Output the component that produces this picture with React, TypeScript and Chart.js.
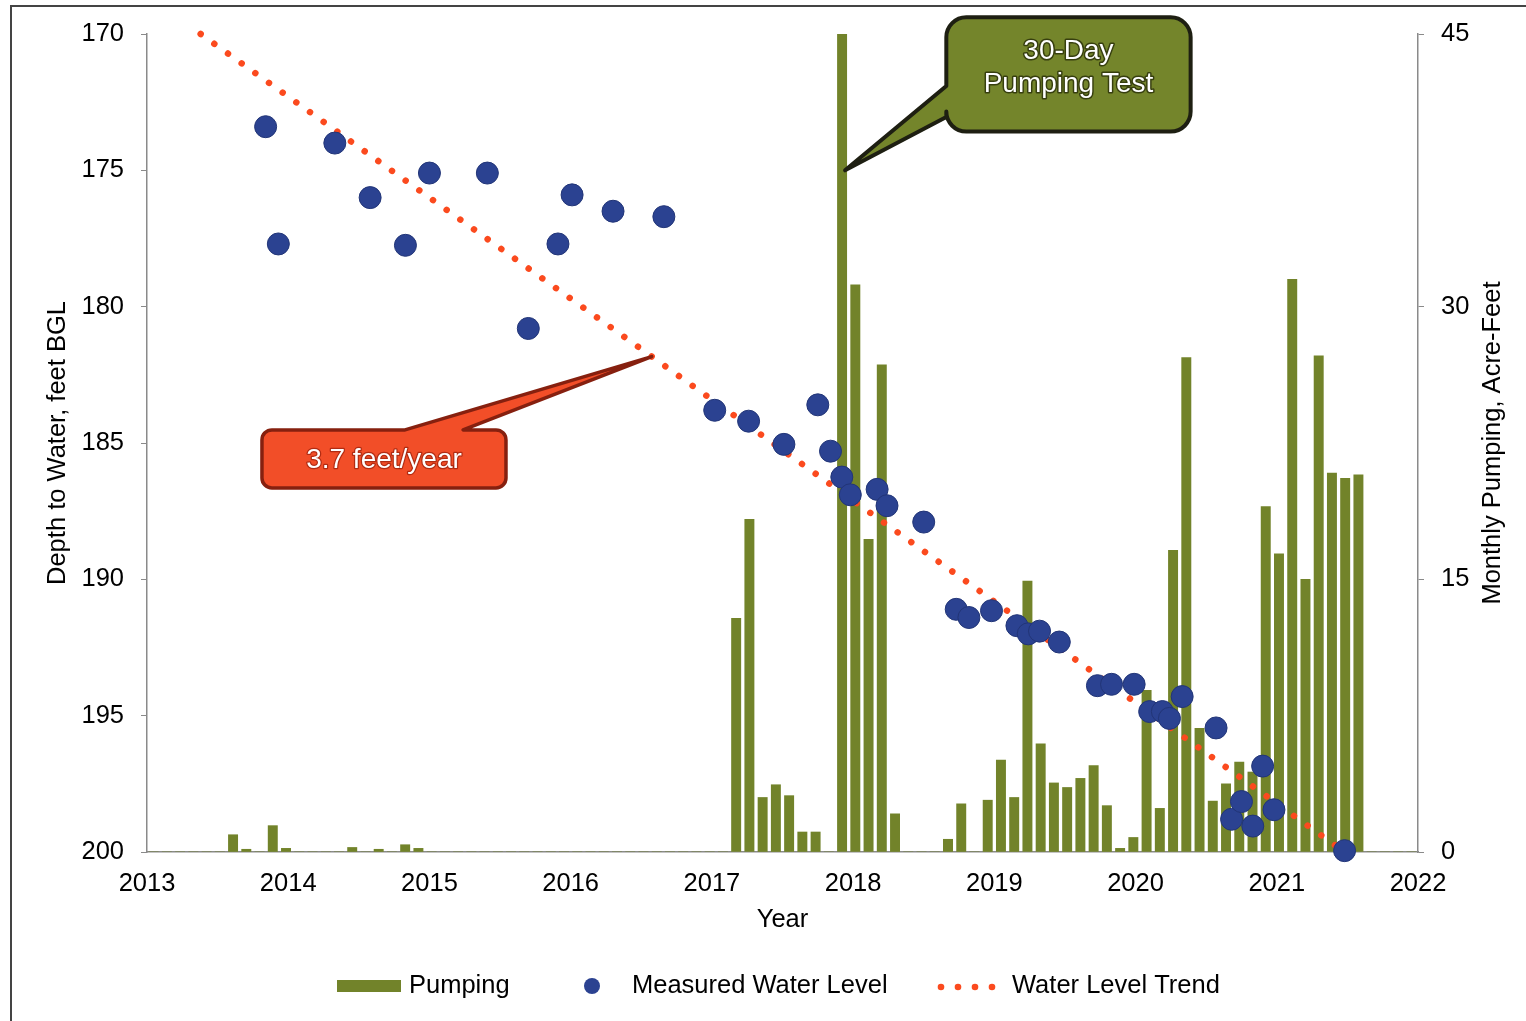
import React, { useEffect, useRef } from 'react';
import { Chart, registerables } from 'chart.js';

Chart.register(...registerables);

const FONT = '"Liberation Sans", Arial, Helvetica, sans-serif';

// ---------- DATA ----------
// Monthly pumping categories (secondary category axis used by the bars)
const monthLabels: string[] = [];
for (let yr = 2014; yr <= 2021; yr++) {
  for (let m = 1; m <= 12; m++) monthLabels.push(`${yr}-${String(m).padStart(2, '0')}`);
}

// Monthly pumping, acre-feet (one row per 12 categories)
const pumping: number[] = [
  0, 0, 0, 0, 0, 0, 0.95, 0.15, 0, 1.45, 0.2, 0,
  0, 0, 0, 0.25, 0, 0.15, 0, 0.4, 0.2, 0, 0, 0,
  0, 0, 0, 0, 0, 0, 0, 0, 0, 0, 0, 0,
  0, 0, 0, 0, 0, 0, 0, 0, 12.85, 18.3, 3.0, 3.7,
  3.1, 1.1, 1.1, 0, 45, 31.2, 17.2, 26.8, 2.1, 0, 0, 0,
  0.7, 2.65, 0, 2.85, 5.05, 3.0, 14.9, 5.95, 3.8, 3.55, 4.05, 4.75,
  2.55, 0.2, 0.8, 8.9, 2.4, 16.6, 27.2, 6.8, 2.8, 3.75, 4.95, 4.4,
  19.0, 16.4, 31.5, 15.0, 27.3, 20.85, 20.55, 20.75, 0, 0, 0, 0,
];

// Measured water level (decimal year, depth in feet BGL)
const levelYears: number[] = [
  2013.84, 2013.93, 2014.33, 2014.58, 2014.83, 2015.0, 2015.41, 2015.7, 2015.91, 2016.01,
  2016.3, 2016.66, 2017.02, 2017.26, 2017.51, 2017.75, 2017.84, 2017.92, 2017.98, 2018.17,
  2018.24, 2018.5, 2018.73, 2018.82, 2018.98, 2019.16, 2019.24, 2019.32, 2019.46, 2019.73,
  2019.83, 2019.99, 2020.1, 2020.19, 2020.24, 2020.33, 2020.57, 2020.68, 2020.75, 2020.83,
  2020.9, 2020.98, 2021.48,
];
const levelDepths: number[] = [
  173.4, 177.7, 174.0, 176.0, 177.75, 175.1, 175.1, 180.8, 177.7, 175.9,
  176.5, 176.7, 183.8, 184.2, 185.05, 183.6, 185.3, 186.25, 186.9, 186.7,
  187.3, 187.9, 191.1, 191.4, 191.15, 191.7, 192.0, 191.9, 192.3, 193.9,
  193.85, 193.85, 194.85, 194.85, 195.1, 194.3, 195.45, 198.8, 198.15, 199.05,
  196.85, 198.45, 199.95,
];

// Water level trend (3.7 ft/yr)
const trendYears: number[] = [2013.38, 2021.48];
const trendDepths: number[] = [170, 200];

// Axis ticks
const yearTicks = { min: 2013, max: 2022, step: 1 };
const depthTicks = { min: 170, max: 200, step: 5 };
const pumpTicks = { min: 0, max: 45, step: 15 };

// ---------- STYLES ----------
const BAR_COLOR = '#72832a';
const POINT_COLOR = '#2b4291';
const TREND_COLOR = '#fb4a1e';
const AXIS_COLOR = '#8a8a8a';

// Callout annotations (data coordinates)
const testCallout = {
  x0: 2018.66, x1: 2020.39, top: 45.92, bottom: 39.63,
  baseHi: 42.14, baseLo: 40.43, tipBar: 52, tipValue: 37.5,
  lines: ['30-Day', 'Pumping Test'],
};
const rateCallout = {
  x0: 2013.814, x1: 2015.542, top: 184.52, bottom: 186.65,
  baseL: 2014.827, baseR: 2015.238, tipYear: 2016.574,
  text: '3.7 feet/year',
};

function calloutPath(
  ctx: CanvasRenderingContext2D,
  l: number, t: number, r: number, b: number, rad: number,
  side: 'left' | 'top', a1: number, a2: number, tipX: number, tipY: number,
) {
  ctx.beginPath();
  ctx.moveTo(l + rad, t);
  if (side === 'top') {
    ctx.lineTo(a1, t);
    ctx.lineTo(tipX, tipY);
    ctx.lineTo(a2, t);
  }
  ctx.lineTo(r - rad, t);
  ctx.arcTo(r, t, r, t + rad, rad);
  ctx.lineTo(r, b - rad);
  ctx.arcTo(r, b, r - rad, b, rad);
  ctx.lineTo(l + rad, b);
  ctx.arcTo(l, b, l, b - rad, rad);
  if (side === 'left') {
    ctx.lineTo(l, a1);
    ctx.lineTo(tipX, tipY);
    ctx.lineTo(l, a2);
  }
  ctx.lineTo(l, t + rad);
  ctx.arcTo(l, t, l + rad, t, rad);
  ctx.closePath();
}

const overlayPlugin = {
  id: 'overlay',
  afterDraw(chart: any) {
    const { ctx, scales, chartArea } = chart;
    const x = scales.x, y = scales.y, y2 = scales.y2, x2 = scales.x2;
    ctx.save();

    // Right axis title (reads bottom to top)
    ctx.save();
    ctx.translate(y2.right - 33, (chartArea.top + chartArea.bottom) / 2);
    ctx.rotate(-Math.PI / 2);
    ctx.font = `25.5px ${FONT}`;
    ctx.fillStyle = '#000';
    ctx.textAlign = 'center';
    ctx.textBaseline = 'middle';
    ctx.fillText('Monthly Pumping, Acre-Feet', 0, 0);
    ctx.restore();

    ctx.lineJoin = 'round';

    // 30-Day Pumping Test callout
    {
      const c = testCallout;
      const l = x.getPixelForValue(c.x0), r = x.getPixelForValue(c.x1);
      const t = y2.getPixelForValue(c.top), b = y2.getPixelForValue(c.bottom);
      const tipX = x2.getPixelForValue(c.tipBar) + 3;
      const tipY = y2.getPixelForValue(c.tipValue);
      calloutPath(ctx, l, t, r, b, 20, 'left', y2.getPixelForValue(c.baseLo), y2.getPixelForValue(c.baseHi), tipX, tipY);
      ctx.fillStyle = '#74852b';
      ctx.fill();
      ctx.lineWidth = 4;
      ctx.strokeStyle = '#1e1f12';
      ctx.stroke();
      ctx.font = `28px ${FONT}`;
      ctx.textAlign = 'center';
      ctx.textBaseline = 'middle';
      const cx = (l + r) / 2;
      c.lines.forEach((s, i) => {
        const ty = t + 34.5 + i * 32.5;
        ctx.lineWidth = 3;
        ctx.strokeStyle = 'rgba(45,50,10,0.85)';
        ctx.strokeText(s, cx, ty);
        ctx.fillStyle = '#ffffff';
        ctx.fillText(s, cx, ty);
      });
    }

    // 3.7 feet/year callout
    {
      const c = rateCallout;
      const l = x.getPixelForValue(c.x0), r = x.getPixelForValue(c.x1);
      const t = y.getPixelForValue(c.top), b = y.getPixelForValue(c.bottom);
      const slope = (trendDepths[1] - trendDepths[0]) / (trendYears[1] - trendYears[0]);
      const tipX = x.getPixelForValue(c.tipYear);
      const tipY = y.getPixelForValue(trendDepths[0] + (c.tipYear - trendYears[0]) * slope);
      calloutPath(ctx, l, t, r, b, 10, 'top', x.getPixelForValue(c.baseL), x.getPixelForValue(c.baseR), tipX, tipY);
      ctx.fillStyle = '#f24e28';
      ctx.fill();
      ctx.lineWidth = 3.5;
      ctx.strokeStyle = '#86200f';
      ctx.stroke();
      ctx.font = `28px ${FONT}`;
      ctx.textAlign = 'center';
      ctx.textBaseline = 'middle';
      const cx = (l + r) / 2, cy = (t + b) / 2 + 1;
      ctx.lineWidth = 2.5;
      ctx.strokeStyle = 'rgba(150,30,10,0.7)';
      ctx.strokeText(c.text, cx, cy);
      ctx.fillStyle = '#ffffff';
      ctx.fillText(c.text, cx, cy);
    }

    // Legend
    {
      const ly = 986;
      ctx.font = `25.5px ${FONT}`;
      ctx.textAlign = 'left';
      ctx.textBaseline = 'middle';
      ctx.fillStyle = BAR_COLOR;
      ctx.fillRect(337, ly - 6, 64, 12);
      ctx.fillStyle = '#000';
      ctx.fillText('Pumping', 409, ly);
      ctx.beginPath();
      ctx.arc(592, ly, 8, 0, Math.PI * 2);
      ctx.fillStyle = POINT_COLOR;
      ctx.fill();
      ctx.fillStyle = '#000';
      ctx.fillText('Measured Water Level', 632, ly);
      ctx.fillStyle = TREND_COLOR;
      for (let i = 0; i < 4; i++) {
        ctx.beginPath();
        ctx.arc(941 + i * 17, ly + 1, 3.3, 0, Math.PI * 2);
        ctx.fill();
      }
      ctx.fillStyle = '#000';
      ctx.fillText('Water Level Trend', 1012, ly);
    }

    ctx.restore();
  },
};

export default function App() {
  const ref = useRef<HTMLCanvasElement>(null);

  useEffect(() => {
    const canvas = ref.current;
    if (!canvas) return;
    const tickFont = { family: FONT, size: 25.5 };
    const chart = new Chart(canvas, {
      type: 'bar',
      data: {
        labels: monthLabels,
        datasets: [
          {
            type: 'scatter',
            label: 'Measured Water Level',
            data: levelYears.map((yr, i) => ({ x: yr, y: levelDepths[i] })),
            xAxisID: 'x',
            yAxisID: 'y',
            backgroundColor: POINT_COLOR,
            borderColor: '#223577',
            borderWidth: 1,
            pointRadius: 11,
            clip: false,
            order: 0,
          } as any,
          {
            type: 'line',
            label: 'Water Level Trend',
            data: trendYears.map((yr, i) => ({ x: yr, y: trendDepths[i] })),
            xAxisID: 'x',
            yAxisID: 'y',
            borderColor: TREND_COLOR,
            borderWidth: 6.5,
            borderDash: [0.001, 16.8],
            borderCapStyle: 'round',
            pointRadius: 0,
            fill: false,
            clip: false,
            order: 1,
          } as any,
          {
            type: 'bar',
            label: 'Pumping',
            data: pumping,
            xAxisID: 'x2',
            yAxisID: 'y2',
            backgroundColor: BAR_COLOR,
            borderWidth: 0,
            grouped: false,
            barThickness: 9.3,
            order: 2,
          } as any,
        ],
      },
      options: {
        responsive: false,
        devicePixelRatio: 1,
        animation: false,
        events: [],
        layout: { padding: { top: 34, left: 0, right: 0, bottom: 0 } },
        plugins: {
          legend: { display: false },
          tooltip: { enabled: false },
          title: { display: false },
        },
        scales: {
          x: {
            type: 'linear',
            position: 'bottom',
            offset: false,
            min: yearTicks.min,
            max: yearTicks.max,
            afterFit: (s: any) => { s.height = 169; },
            ticks: {
              stepSize: yearTicks.step,
              callback: (v: any) => String(v),
              font: tickFont,
              color: '#000',
              padding: 9,
              maxRotation: 0,
              autoSkip: false,
            },
            grid: { display: false, offset: false },
            border: { display: true, color: AXIS_COLOR, width: 1.5 },
            title: {
              display: true,
              text: 'Year',
              font: tickFont,
              color: '#000',
              padding: { top: 0, bottom: 86 },
            },
          },
          x2: {
            type: 'category',
            labels: monthLabels,
            display: false,
            offset: true,
            grid: { offset: true },
          },
          y: {
            type: 'linear',
            position: 'left',
            reverse: true,
            min: depthTicks.min,
            max: depthTicks.max,
            afterFit: (s: any) => { s.width = 147; },
            ticks: {
              stepSize: depthTicks.step,
              font: tickFont,
              color: '#000',
              padding: 17,
            },
            grid: { display: true, drawOnChartArea: false, drawTicks: true, tickLength: 6, color: AXIS_COLOR },
            border: { display: true, color: AXIS_COLOR, width: 1.5 },
            title: {
              display: true,
              text: 'Depth to Water, feet BGL',
              font: tickFont,
              color: '#000',
              padding: { top: 43, bottom: 0 },
            },
          },
          y2: {
            type: 'linear',
            position: 'right',
            min: pumpTicks.min,
            max: pumpTicks.max,
            afterFit: (s: any) => { s.width = 108; },
            ticks: {
              stepSize: pumpTicks.step,
              font: tickFont,
              color: '#000',
              padding: 17,
            },
            grid: { display: true, drawOnChartArea: false, drawTicks: true, tickLength: 6, color: AXIS_COLOR },
            border: { display: true, color: AXIS_COLOR, width: 1.5 },
          },
        },
      } as any,
      plugins: [overlayPlugin],
    });
    return () => chart.destroy();
  }, []);

  return (
    <div style={{ position: 'fixed', left: 0, top: 0, width: 1526, height: 1021, background: '#fff', overflow: 'hidden' }}>
      <canvas ref={ref} width={1526} height={1021} style={{ display: 'block', width: 1526, height: 1021 }} />
      <div
        style={{
          position: 'absolute', left: 10, top: 5, right: 0, bottom: 0,
          borderTop: '2px solid #444', borderLeft: '2px solid #444', pointerEvents: 'none',
        }}
      />
    </div>
  );
}
